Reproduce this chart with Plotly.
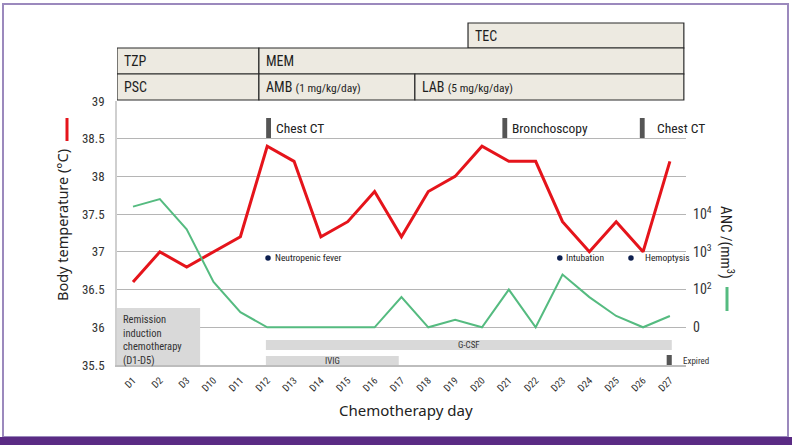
import plotly.graph_objects as go

days = ["D1", "D2", "D3", "D10", "D11", "D12", "D13", "D14", "D15", "D16", "D17",
        "D18", "D19", "D20", "D21", "D22", "D23", "D24", "D25", "D26", "D27"]
temperature = [36.6, 37.0, 36.8, 37.0, 37.2, 38.4, 38.2, 37.2, 37.4, 37.8, 37.2,
               37.8, 38.0, 38.4, 38.2, 38.2, 37.4, 37.0, 37.4, 37.0, 38.2]
# ANC on the right axis, in log10 units (1 = "0", 2 = 10^2, 3 = 10^3, 4 = 10^4)
anc_log = [4.2, 4.4, 3.6, 2.2, 1.4, 1.0, 1.0, 1.0, 1.0, 1.0, 1.8,
           1.0, 1.2, 1.0, 2.0, 1.0, 2.4, 1.8, 1.3, 1.0, 1.3]

temp_ticks = [35.5, 36, 36.5, 37, 37.5, 38, 38.5, 39]
anc_tickvals = [1, 2, 3, 4]
anc_ticktext = ["0", "10<sup>2</sup>", "10<sup>3</sup>", "10<sup>4</sup>"]

# antibiotic / antifungal regimens: (label, start index, end index, row)
regimens = [
    ("TEC", 12.48, 20.52, 0),
    ("TZP", -0.596, 4.69, 1),
    ("MEM", 4.69, 20.52, 1),
    ("PSC", -0.596, 4.69, 2),
    ("AMB <span style='font-size:11.5px'>(1 mg/kg/day)</span>", 4.69, 10.5, 2),
    ("LAB <span style='font-size:11.5px'>(5 mg/kg/day)</span>", 10.5, 20.52, 2),
]
# procedures: (label, index of marker, index of text)
procedures = [("Chest CT", 5.05, 5.25), ("Bronchoscopy", 13.85, 14.05), ("Chest CT", 18.97, 19.45)]
# events: (label, dot index, text index)
events = [("Neutropenic fever", 5.03, 5.2), ("Intubation", 15.9, 16.05), ("Hemoptysis", 18.55, 19.0)]

NARROW = "Liberation Sans Narrow, Roboto Condensed, Arial Narrow, Roboto, sans-serif"
WIDE = "Noto Sans, Open Sans, sans-serif"

L, R, T, B = 117, 106, 101, 80
W, H = 792, 445
PW, PH = W - L - R, H - T - B


def px(x):
    return (x - L) / PW


def py(y):
    return (H - B - y) / PH


xs = list(range(len(days)))
fig = go.Figure()
fig.add_trace(go.Scatter(x=xs, y=anc_log, yaxis="y2", mode="lines",
                         line=dict(color="#55bb80", width=2), hoverinfo="skip"))
fig.add_trace(go.Scatter(x=xs, y=temperature, mode="lines",
                         line=dict(color="#e5141b", width=3), hoverinfo="skip"))
fig.add_trace(go.Scatter(x=[e[1] for e in events], y=[36.92] * len(events), mode="markers",
                         marker=dict(color="#0d1f4f", size=5.5), hoverinfo="skip"))

shapes = []
annotations = []

# outer frame
shapes.append(dict(type="rect", xref="paper", yref="paper", x0=px(3), x1=px(788), y0=py(437), y1=py(4),
                   line=dict(color="#9b89bd", width=2), fillcolor="rgba(0,0,0,0)", layer="below"))
shapes.append(dict(type="rect", xref="paper", yref="paper", x0=px(0), x1=px(792), y0=py(445), y1=py(437),
                   line=dict(width=0), fillcolor="#5a2b84"))

# regimen boxes
row_y = [(23, 48), (48, 74), (74, 100)]
for label, x0, x1, row in regimens:
    ytop, ybot = row_y[row]
    shapes.append(dict(type="rect", xref="x", yref="paper", x0=x0, x1=x1, y0=py(ybot), y1=py(ytop),
                       line=dict(color="#2a2a2a", width=1.2), fillcolor="#edeae1"))
    annotations.append(dict(xref="x", yref="paper", x=x0 + 0.2, y=py((ytop + ybot) / 2),
                            xanchor="left", yanchor="middle", text=label, showarrow=False,
                            font=dict(family=NARROW, size=14, color="#1e1e1e")))

# procedure markers
for label, xi, xt in procedures:
    shapes.append(dict(type="rect", xref="x", yref="paper", x0=xi - 0.09, x1=xi + 0.09,
                       y0=py(138), y1=py(118), line=dict(width=0), fillcolor="#555555"))
    annotations.append(dict(xref="x", yref="paper", x=xt, y=py(128), xanchor="left", yanchor="middle",
                            text=label, showarrow=False, font=dict(family=NARROW, size=13.5, color="#222")))

# event labels
for label, xd, xt in events:
    annotations.append(dict(xref="x", yref="y", x=xt, y=36.92, xanchor="left", yanchor="middle",
                            text=label, showarrow=False, font=dict(family=NARROW, size=9.5, color="#222")))

# bottom bars
shapes.append(dict(type="rect", xref="x", yref="paper", x0=-0.596, x1=2.5, y0=py(365), y1=py(308),
                   line=dict(width=0), fillcolor="#d9d9d9"))
annotations.append(dict(xref="x", yref="paper", x=-0.45, y=py(311), xanchor="left", yanchor="top",
                        align="left", text="Remission<br>induction<br>chemotherapy<br>(D1-D5)",
                        showarrow=False, font=dict(family=NARROW, size=10.5, color="#333")))
shapes.append(dict(type="rect", xref="x", yref="paper", x0=4.95, x1=20.07, y0=py(350), y1=py(340),
                   line=dict(width=0), fillcolor="#d9d9d9"))
annotations.append(dict(xref="x", yref="paper", x=12.5, y=py(345), xanchor="center", yanchor="middle",
                        text="G-CSF", showarrow=False, font=dict(family=NARROW, size=9, color="#333")))
shapes.append(dict(type="rect", xref="x", yref="paper", x0=4.95, x1=9.9, y0=py(365), y1=py(356),
                   line=dict(width=0), fillcolor="#d9d9d9"))
annotations.append(dict(xref="x", yref="paper", x=7.42, y=py(360.5), xanchor="center", yanchor="middle",
                        text="IVIG", showarrow=False, font=dict(family=NARROW, size=9, color="#333")))
shapes.append(dict(type="rect", xref="x", yref="paper", x0=19.88, x1=20.07, y0=py(365), y1=py(355),
                   line=dict(width=0), fillcolor="#555555"))
annotations.append(dict(xref="paper", yref="paper", x=px(681), y=py(360.5), xanchor="left", yanchor="middle",
                        text="Expired", showarrow=False, font=dict(family=NARROW, size=9, color="#333")))

# legend-like key lines
shapes.append(dict(type="line", xref="paper", yref="paper", x0=px(67), x1=px(67), y0=py(141), y1=py(118),
                   line=dict(color="#e5141b", width=3)))
shapes.append(dict(type="line", xref="paper", yref="paper", x0=px(727), x1=px(727), y0=py(311), y1=py(287),
                   line=dict(color="#55bb80", width=3)))

# axis titles
annotations.append(dict(xref="paper", yref="paper", x=px(62), y=py(225), textangle=-90,
                        text="Body temperature (°C)", showarrow=False, xanchor="center", yanchor="middle",
                        font=dict(family=WIDE, size=14.5, color="#222")))
annotations.append(dict(xref="paper", yref="paper", x=px(727), y=py(242), textangle=90,
                        text="ANC /(mm<sup>3</sup>)", showarrow=False, xanchor="center", yanchor="middle",
                        font=dict(family=NARROW, size=15, color="#222")))
annotations.append(dict(xref="paper", yref="paper", x=px(406), y=py(410),
                        text="Chemotherapy day", showarrow=False, xanchor="center", yanchor="middle",
                        font=dict(family=WIDE, size=15, color="#222")))

fig.update_layout(
    width=W, height=H,
    margin=dict(l=L, r=R, t=T, b=B),
    paper_bgcolor="white", plot_bgcolor="white",
    showlegend=False,
    shapes=shapes, annotations=annotations,
    xaxis=dict(range=[-0.596, 20.6], tickvals=xs, ticktext=days, tickangle=-45,
               showgrid=False, zeroline=False, showline=True, linecolor="#bdbdbd", linewidth=1.5,
               ticks="", tickfont=dict(family=NARROW, size=10, color="#333"), ticklabelstandoff=4),
    yaxis=dict(range=[35.5, 39], tickvals=temp_ticks, ticktext=[str(t) for t in temp_ticks],
               showgrid=True, gridcolor="#b5b5b5", gridwidth=1, zeroline=False,
               showline=True, linecolor="#cfcfcf", linewidth=1.5, ticks="",
               tickfont=dict(family=NARROW, size=13, color="#333"), ticklabelstandoff=8),
    yaxis2=dict(range=[0, 7], overlaying="y", side="right", tickvals=anc_tickvals, ticktext=anc_ticktext,
                showgrid=False, zeroline=False, showline=False, ticks="",
                tickfont=dict(family=NARROW, size=14, color="#333"), ticklabelstandoff=6),
)

fig.write_html("out.html", config={"displayModeBar": False},
               post_script="document.body.style.margin='0';document.body.style.overflow='hidden';")
